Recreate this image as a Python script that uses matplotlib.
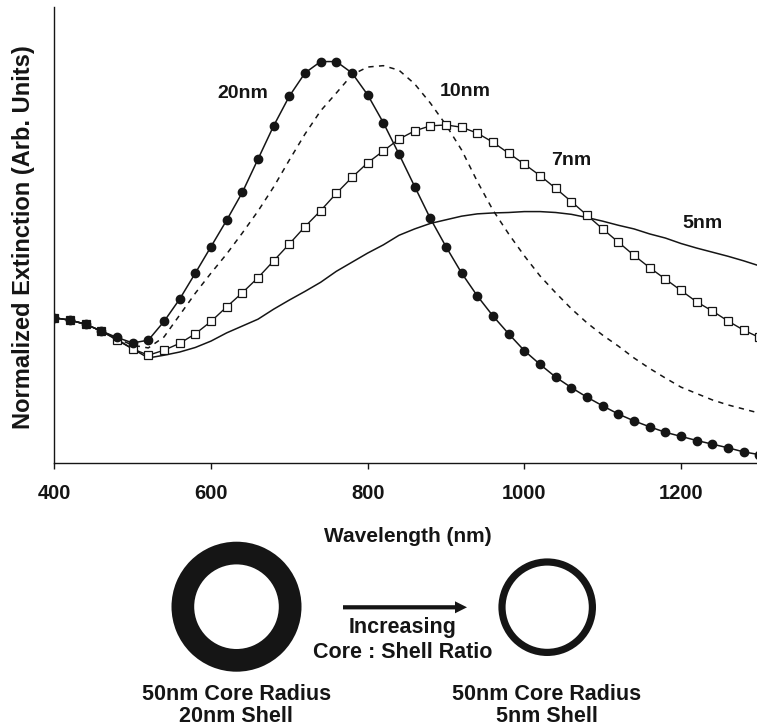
import numpy as np
import matplotlib
matplotlib.use("Agg")
import matplotlib.pyplot as plt
from matplotlib.patches import Wedge, FancyArrow

plt.rcParams['font.family'] = ['Liberation Sans', 'DejaVu Sans']
plt.rcParams['font.weight'] = 'bold'

# ---------------- data ----------------
wavelength = list(range(400, 1301, 20))

shell_20nm = [31.9, 31.4, 30.5, 29.0, 27.6, 26.4, 27.0, 31.1, 36.0, 41.7,
              47.5, 53.3, 59.4, 66.7, 74.0, 80.5, 85.6, 88.1, 88.1, 85.6,
              80.8, 74.7, 67.8, 60.7, 53.7, 47.5, 41.7, 36.7, 32.3, 28.4,
              24.7, 21.7, 18.9, 16.6, 14.5, 12.6, 10.8, 9.3, 8.0, 6.8,
              5.9, 5.0, 4.2, 3.4, 2.5, 1.9]

shell_10nm = [31.9, 31.4, 30.5, 29.0, 27.4, 25.9, 25.3, 27.7, 32.5, 37.3,
              41.7, 45.9, 50.5, 55.3, 60.6, 66.5, 72.2, 77.3, 81.2, 85.2,
              86.9, 87.2, 86.2, 83.2, 79.0, 74.2, 68.7, 61.8, 55.5, 50.3,
              45.5, 41.1, 37.4, 33.9, 30.8, 28.1, 25.7, 23.1, 20.8, 18.7,
              16.7, 15.3, 13.9, 12.8, 11.9, 11.0]

shell_7nm = [31.9, 31.4, 30.5, 29.0, 27.0, 25.1, 23.7, 24.8, 26.3, 28.4,
             31.1, 34.3, 37.4, 40.7, 44.4, 48.1, 51.9, 55.4, 59.2, 62.7,
             65.9, 68.5, 71.1, 72.9, 74.0, 74.2, 73.7, 72.4, 70.4, 68.0,
             65.6, 63.1, 60.3, 57.4, 54.4, 51.4, 48.5, 45.6, 42.9, 40.4,
             37.9, 35.4, 33.4, 31.2, 29.2, 27.6]

shell_5nm = [31.9, 31.4, 30.5, 29.0, 27.2, 25.1, 23.1, 23.7, 24.4, 25.4,
             26.8, 28.6, 30.1, 31.6, 33.8, 35.8, 37.7, 39.7, 42.1, 44.1,
             46.1, 47.9, 50.0, 51.4, 52.6, 53.4, 54.2, 54.7, 54.9, 55.0,
             55.2, 55.2, 55.0, 54.6, 53.9, 53.1, 52.2, 51.4, 50.3, 49.4,
             48.2, 47.2, 46.3, 45.4, 44.4, 43.3]

curve_labels = ["20nm", "10nm", "7nm", "5nm"]
label_x = [641, 924, 1060, 1228]
label_y = [80.0, 80.5, 65.5, 51.5]

x_ticks = [400, 600, 800, 1000, 1200]

INK = "#151515"

# ---------------- figure ----------------
W, H = 757, 728
fig = plt.figure(figsize=(W / 100, H / 100), dpi=100)
ax = fig.add_axes([54.3 / W, (H - 463.3) / H, (W - 54.3) / W, 456 / H])

ax.plot(wavelength, shell_10nm, color=INK, lw=1.1, ls=(0, (3.5, 3.5)))
ax.plot(wavelength, shell_5nm, color=INK, lw=1.1)
ax.plot(wavelength, shell_7nm, color=INK, lw=1.0, marker='s', ms=5.2,
        mfc='white', mec=INK, mew=0.9)
ax.plot(wavelength, shell_20nm, color=INK, lw=1.1, marker='o', ms=6.0,
        mfc=INK, mec=INK)

for t, xx, yy in zip(curve_labels, label_x, label_y):
    ax.text(xx, yy, t, ha='center', va='baseline', fontsize=14,
            fontweight='bold', color=INK)

ax.set_xlim(400, 1297)
ax.set_ylim(0, 100)
ax.set_xticks(x_ticks)
ax.set_xticklabels([str(v) for v in x_ticks])
ax.set_yticks([])
for s in ['top', 'right']:
    ax.spines[s].set_visible(False)
for s in ['left', 'bottom']:
    ax.spines[s].set_linewidth(1.0)
    ax.spines[s].set_color(INK)
ax.tick_params(axis='x', direction='out', length=4.2, width=1.0, color=INK,
               pad=11, labelsize=14.5, labelcolor=INK)
for lab in ax.get_xticklabels():
    lab.set_fontweight('bold')

# ---------------- overlay in pixel coordinates ----------------
ov = fig.add_axes([0, 0, 1, 1], zorder=-1)
ov.set_xlim(0, W)
ov.set_ylim(H, 0)
ov.axis('off')

ov.text(24, 236.7, "Normalized Extinction (Arb. Units)", rotation=90,
        ha='center', va='center', fontsize=17, fontweight='bold', color=INK)
ov.text(407.5, 542, "Wavelength (nm)", ha='center', va='baseline',
        fontsize=15, fontweight='bold', color=INK)

# thick ring (20 nm shell) and thin ring (5 nm shell)
ov.add_patch(Wedge((236.5, 606.7), 65, 0, 360, width=22.7, color=INK, lw=0))
ov.add_patch(Wedge((547.2, 607.2), 48.8, 0, 360, width=7.2, color=INK, lw=0))
ov.add_patch(FancyArrow(343, 607.3, 124, 0, width=4.2, head_width=12,
                        head_length=12, length_includes_head=True,
                        color=INK, lw=0))

ov.text(402.5, 632.8, "Increasing", ha='center', va='baseline',
        fontsize=15.5, fontweight='bold', color=INK)
ov.text(402.5, 658.5, "Core : Shell Ratio", ha='center', va='baseline',
        fontsize=15.5, fontweight='bold', color=INK)
ov.text(236.3, 699.5, "50nm Core Radius", ha='center', va='baseline',
        fontsize=15.5, fontweight='bold', color=INK)
ov.text(236.3, 722.5, "20nm Shell", ha='center', va='baseline',
        fontsize=15.5, fontweight='bold', color=INK)
ov.text(546.7, 699.5, "50nm Core Radius", ha='center', va='baseline',
        fontsize=15.5, fontweight='bold', color=INK)
ov.text(546.7, 722.5, "5nm Shell", ha='center', va='baseline',
        fontsize=15.5, fontweight='bold', color=INK)

fig.savefig("out.png", dpi=100)
